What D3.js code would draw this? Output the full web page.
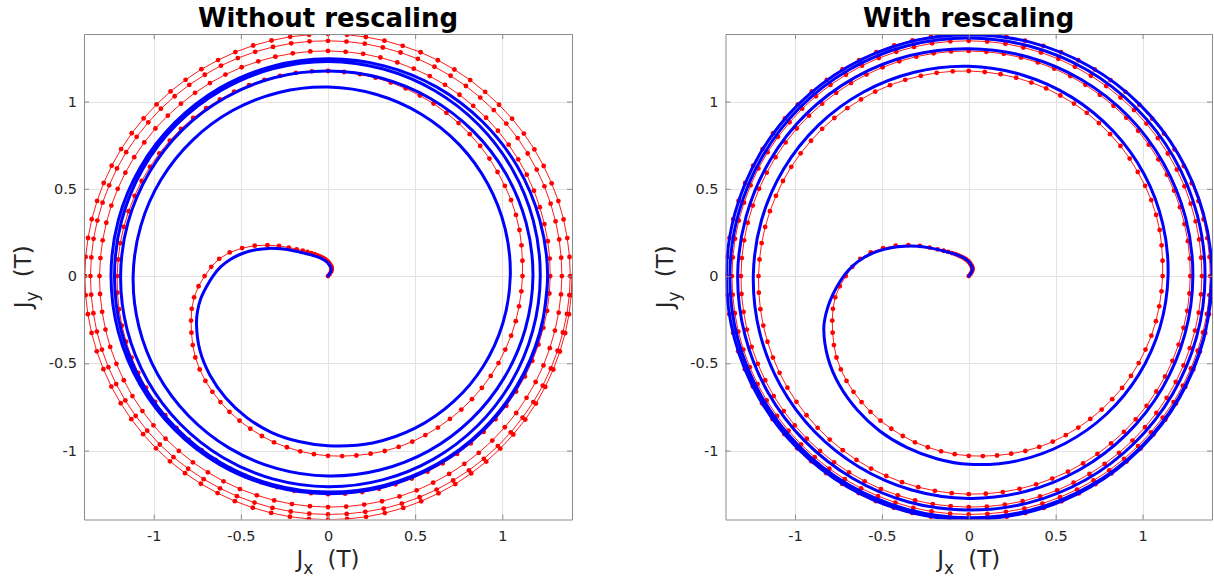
<!DOCTYPE html>
<html>
<head>
<meta charset="utf-8">
<script src="https://cdn.jsdelivr.net/npm/d3@7"></script>
<style>
  body { margin: 0; background: #fff; }
  svg { display: block; }
  text { font-family: "DejaVu Sans", "Liberation Sans", sans-serif; }
</style>
</head>
<body>
<svg id="chart" width="1214" height="581"></svg>
<script>
// Axis ticks and labels
const xTickValues = [-1, -0.5, 0, 0.5, 1];
const yTickValues = [-1, -0.5, 0, 0.5, 1];
const tickLabels = ["-1", "-0.5", "0", "0.5", "1"];
const panelTitles = ["Without rescaling", "With rescaling"];

// Reference trajectory (red markers): [phase angle in degrees, |J| in T]
const reference = [
[45,0],[49.5,0.015],[54,0.03],[58.5,0.04],[63,0.047],[67.5,0.053],[72,0.058],[76.5,0.063],[81,0.068],[85.5,0.075],
[90,0.082],[94.5,0.089],[99,0.096],[103.5,0.104],[108,0.113],[112.5,0.122],[117,0.133],[121.5,0.147],[126,0.163],[130.5,0.182],
[135,0.205],[139.5,0.236],[144,0.278],[148.5,0.33],[153,0.39],[157.5,0.455],[162,0.518],[166.5,0.58],[171,0.632],[175.5,0.672],
[180,0.708],[184.5,0.745],[189,0.778],[193.5,0.804],[198,0.826],[202.5,0.848],[207,0.871],[211.5,0.893],[216,0.91],[220.5,0.925],
[225,0.938],[229.5,0.95],[234,0.962],[238.5,0.972],[243,0.982],[247.5,0.992],[252,1.002],[256.5,1.009],[261,1.017],[265.5,1.024],
[270,1.03],[274.5,1.035],[279,1.041],[283.5,1.047],[288,1.054],[292.5,1.06],[297,1.065],[301.5,1.069],[306,1.073],[310.5,1.077],
[315,1.082],[319.5,1.086],[324,1.091],[328.5,1.095],[333,1.098],[337.5,1.101],[342,1.105],[346.5,1.108],[351,1.11],[355.5,1.113],
[360,1.116],[364.5,1.119],[369,1.124],[373.5,1.13],[378,1.134],[382.5,1.137],[387,1.139],[391.5,1.141],[396,1.145],[400.5,1.148],
[405,1.15],[409.5,1.153],[414,1.156],[418.5,1.159],[423,1.161],[427.5,1.164],[432,1.166],[436.5,1.169],[441,1.171],[445.5,1.173],
[450,1.175],[454.5,1.177],[459,1.179],[463.5,1.18],[468,1.182],[472.5,1.184],[477,1.186],[481.5,1.187],[486,1.189],[490.5,1.191],
[495,1.193],[499.5,1.194],[504,1.196],[508.5,1.198],[513,1.2],[517.5,1.201],[522,1.203],[526.5,1.205],[531,1.207],[535.5,1.208],
[540,1.21],[544.5,1.212],[549,1.214],[553.5,1.216],[558,1.218],[562.5,1.22],[567,1.222],[571.5,1.224],[576,1.226],[580.5,1.228],
[585,1.23],[589.5,1.232],[594,1.234],[598.5,1.236],[603,1.238],[607.5,1.24],[612,1.242],[616.5,1.244],[621,1.246],[625.5,1.248],
[630,1.25],[634.5,1.251],[639,1.253],[643.5,1.254],[648,1.255],[652.5,1.256],[657,1.258],[661.5,1.259],[666,1.26],[670.5,1.261],
[675,1.263],[679.5,1.264],[684,1.265],[688.5,1.266],[693,1.268],[697.5,1.269],[702,1.27],[706.5,1.271],[711,1.273],[715.5,1.274],
[720,1.275],[724.5,1.276],[729,1.277],[733.5,1.277],[738,1.278],[742.5,1.279],[747,1.28],[751.5,1.28],[756,1.281],[760.5,1.282],
[765,1.283],[769.5,1.283],[774,1.284],[778.5,1.285],[783,1.286],[787.5,1.286],[792,1.287],[796.5,1.288],[801,1.289],[805.5,1.289],
[810,1.29],[814.5,1.291],[819,1.292],[823.5,1.293],[828,1.294],[832.5,1.295],[837,1.296],[841.5,1.297],[846,1.298],[850.5,1.299],
[855,1.3],[859.5,1.302],[864,1.303],[868.5,1.304],[873,1.305],[877.5,1.306],[882,1.307],[886.5,1.308],[891,1.309],[895.5,1.31],
[900,1.311],[904.5,1.312],[909,1.312],[913.5,1.313],[918,1.314],[922.5,1.314],[927,1.315],[931.5,1.316],[936,1.316],[940.5,1.317],
[945,1.318],[949.5,1.318],[954,1.319],[958.5,1.319],[963,1.32],[967.5,1.321],[972,1.321],[976.5,1.322],[981,1.323],[985.5,1.323],
[990,1.324],[994.5,1.325],[999,1.326],[1003.5,1.327],[1008,1.328],[1012.5,1.329],[1017,1.329],[1021.5,1.33],[1026,1.331],[1030.5,1.332],
[1035,1.333],[1039.5,1.334],[1044,1.335],[1048.5,1.336],[1053,1.337],[1057.5,1.338],[1062,1.338],[1066.5,1.339],[1071,1.34],[1075.5,1.341],
[1080,1.342],[1084.5,1.342],[1089,1.343],[1093.5,1.343],[1098,1.343],[1102.5,1.344],[1107,1.344],[1111.5,1.344],[1116,1.345],[1120.5,1.345],
[1125,1.345],[1129.5,1.345],[1134,1.346],[1138.5,1.346],[1143,1.346],[1147.5,1.347],[1152,1.347],[1156.5,1.347],[1161,1.348],[1165.5,1.348],
[1170,1.348],[1174.5,1.349],[1179,1.35],[1183.5,1.35],[1188,1.351],[1192.5,1.352],[1197,1.353],[1201.5,1.353],[1206,1.354],[1210.5,1.355],
[1215,1.356],[1219.5,1.356],[1224,1.357],[1228.5,1.358],[1233,1.359],[1237.5,1.359],[1242,1.36],[1246.5,1.361],[1251,1.362],[1255.5,1.362],
[1260,1.363],[1264.5,1.363],[1269,1.363],[1273.5,1.364],[1278,1.364],[1282.5,1.364],[1287,1.364],[1291.5,1.364],[1296,1.364],[1300.5,1.364],
[1305,1.365],[1309.5,1.365],[1314,1.365],[1318.5,1.365],[1323,1.365],[1327.5,1.365],[1332,1.365],[1336.5,1.366],[1341,1.366],[1345.5,1.366],
[1350,1.366],[1354.5,1.367],[1359,1.368],[1363.5,1.37],[1368,1.371],[1372.5,1.372],[1377,1.373],[1381.5,1.374],[1386,1.376],[1390.5,1.377],
[1395,1.378],[1399.5,1.379],[1404,1.38],[1408.5,1.382],[1413,1.383],[1417.5,1.384],[1422,1.385],[1426.5,1.386],[1431,1.388],[1435.5,1.389],
[1440,1.39],[1444.5,1.39],[1449,1.39],[1453.5,1.39],[1458,1.39],[1462.5,1.389],[1467,1.389],[1471.5,1.389],[1476,1.389],[1480.5,1.389],
[1485,1.388],[1489.5,1.388],[1494,1.388],[1498.5,1.388],[1503,1.388],[1507.5,1.388],[1512,1.387],[1516.5,1.387],[1521,1.387],[1525.5,1.387],
[1530,1.387],[1534.5,1.387],[1539,1.388],[1543.5,1.388],[1548,1.389],[1552.5,1.389],[1557,1.389],[1561.5,1.39],[1566,1.39],[1570.5,1.391],
[1575,1.391],[1579.5,1.391],[1584,1.392],[1588.5,1.392],[1593,1.393],[1597.5,1.393],[1602,1.393],[1606.5,1.394],[1611,1.394],[1615.5,1.395],
[1620,1.395],[1624.5,1.395],[1629,1.395],[1633.5,1.395],[1638,1.395],[1642.5,1.395],[1647,1.395],[1651.5,1.395],[1656,1.395],[1660.5,1.395],
[1665,1.396],[1669.5,1.396],[1674,1.396],[1678.5,1.396],[1683,1.396],[1687.5,1.396],[1692,1.396],[1696.5,1.396],[1701,1.396],[1705.5,1.396],
[1710,1.396],[1714.5,1.396],[1719,1.397],[1723.5,1.397],[1728,1.397],[1732.5,1.397],[1737,1.397],[1741.5,1.398],[1746,1.398],[1750.5,1.398],
[1755,1.398],[1759.5,1.398],[1764,1.399],[1768.5,1.399],[1773,1.399],[1777.5,1.399],[1782,1.399],[1786.5,1.4],[1791,1.4],[1795.5,1.4],[1800,1.4]
];

// Simulated trajectory, plain (blue line, left panel): [phase angle in degrees, |J| in T]
const simulatedPlain = [
[45,0],[50,0.012],[55,0.025],[60,0.036],[65,0.044],[70,0.05],[75,0.055],[80,0.061],[85,0.067],[90,0.074],
[95,0.081],[100,0.089],[105,0.097],[110,0.106],[115,0.116],[120,0.128],[125,0.142],[130,0.16],[135,0.183],[140,0.215],
[145,0.258],[150,0.312],[155,0.375],[160,0.44],[165,0.505],[170,0.565],[175,0.617],[180,0.66],[185,0.7],[190,0.741],
[195,0.775],[200,0.803],[210,0.849],[220,0.884],[230,0.912],[240,0.935],[250,0.953],[260,0.963],[270,0.972],[285,0.99],
[300,1.005],[315,1.018],[330,1.03],[345,1.039],[360,1.046],[375,1.052],[390,1.058],[405,1.065],[420,1.071],[435,1.077],
[450,1.083],[465,1.089],[480,1.095],[495,1.1],[510,1.106],[525,1.112],[540,1.118],[555,1.123],[570,1.128],[585,1.132],
[600,1.137],[615,1.141],[630,1.146],[645,1.151],[660,1.157],[675,1.162],[690,1.167],[705,1.172],[720,1.176],[735,1.177],
[750,1.177],[765,1.176],[780,1.175],[795,1.175],[810,1.175],[825,1.178],[840,1.18],[855,1.183],[870,1.185],[885,1.188],
[900,1.19],[915,1.193],[930,1.196],[945,1.199],[960,1.202],[975,1.205],[990,1.207],[1005,1.209],[1020,1.211],[1035,1.213],
[1050,1.215],[1065,1.216],[1080,1.218],[1095,1.22],[1110,1.222],[1125,1.224],[1140,1.226],[1155,1.228],[1170,1.23],[1185,1.229],
[1200,1.228],[1215,1.228],[1230,1.227],[1245,1.226],[1260,1.225],[1275,1.227],[1290,1.23],[1305,1.232],[1320,1.234],[1335,1.236],
[1350,1.238],[1365,1.242],[1380,1.246],[1395,1.25],[1410,1.253],[1425,1.257],[1440,1.26],[1455,1.257],[1470,1.255],[1485,1.252],
[1500,1.25],[1515,1.247],[1530,1.245],[1545,1.244],[1560,1.244],[1575,1.243],[1590,1.244],[1605,1.245],[1620,1.245],[1635,1.245],
[1650,1.245],[1665,1.245],[1680,1.246],[1695,1.246],[1710,1.247],[1725,1.25],[1740,1.252],[1755,1.255],[1770,1.258],[1785,1.26],[1800,1.262]
];

// Simulated trajectory, rescaled (blue line, right panel): [phase angle in degrees, |J| in T]
const simulatedRescaled = [
[45,0],[50,0.013],[55,0.027],[60,0.039],[65,0.048],[70,0.055],[75,0.061],[80,0.067],[85,0.074],[90,0.082],
[95,0.09],[100,0.098],[105,0.107],[110,0.117],[115,0.128],[120,0.141],[125,0.157],[130,0.177],[135,0.203],[140,0.238],
[145,0.284],[150,0.341],[155,0.405],[160,0.475],[165,0.545],[170,0.612],[175,0.67],[180,0.72],[185,0.765],[190,0.81],
[195,0.852],[200,0.888],[210,0.936],[220,0.972],[230,1.0],[240,1.025],[250,1.045],[260,1.063],[270,1.079],[285,1.095],
[300,1.108],[315,1.12],[330,1.13],[345,1.139],[360,1.147],[375,1.156],[390,1.166],[405,1.175],[420,1.184],[435,1.193],
[450,1.202],[465,1.209],[480,1.216],[495,1.223],[510,1.229],[525,1.235],[540,1.24],[555,1.246],[570,1.252],[585,1.258],
[600,1.263],[615,1.269],[630,1.274],[645,1.277],[660,1.28],[675,1.283],[690,1.286],[705,1.288],[720,1.29],[735,1.292],
[750,1.294],[765,1.297],[780,1.299],[795,1.301],[810,1.303],[825,1.308],[840,1.313],[855,1.318],[870,1.322],[885,1.326],
[900,1.33],[915,1.332],[930,1.334],[945,1.336],[960,1.338],[975,1.34],[990,1.341],[1005,1.344],[1020,1.348],[1035,1.351],
[1050,1.354],[1065,1.357],[1080,1.36],[1095,1.361],[1110,1.362],[1125,1.362],[1140,1.363],[1155,1.363],[1170,1.364],[1185,1.366],
[1200,1.368],[1215,1.37],[1230,1.371],[1245,1.373],[1260,1.375],[1275,1.377],[1290,1.378],[1305,1.38],[1320,1.382],[1335,1.383],
[1350,1.385],[1365,1.388],[1380,1.39],[1395,1.393],[1410,1.395],[1425,1.398],[1440,1.4],[1455,1.397],[1470,1.394],[1485,1.391],
[1500,1.388],[1515,1.386],[1530,1.383],[1545,1.385],[1560,1.387],[1575,1.389],[1590,1.391],[1605,1.393],[1620,1.395],[1635,1.395],
[1650,1.395],[1665,1.395],[1680,1.395],[1695,1.395],[1710,1.395],[1725,1.396],[1740,1.397],[1755,1.398],[1770,1.399],[1785,1.4],[1800,1.4]
];

const svg = d3.select("#chart");
const plotTop = 34, plotBottom = 519.5;

const panels = [
  { title: panelTitles[0], left: 84, right: 572, yLabelX: 31, sim: simulatedPlain },
  { title: panelTitles[1], left: 725.5, right: 1212, yLabelX: 673, sim: simulatedRescaled }
];

// polar sample -> cartesian (Jx, Jy)
const toJ = d => {
  const a = d[0] * Math.PI / 180;
  return [d[1] * Math.cos(a), d[1] * Math.sin(a)];
};

panels.forEach((p, i) => {
  const x = d3.scaleLinear().domain([-1.4, 1.4]).range([p.left, p.right]);
  const y = d3.scaleLinear().domain([-1.395, 1.387]).range([plotBottom, plotTop]);
  const g = svg.append("g");

  // grid
  g.append("g").selectAll("line").data(xTickValues).join("line")
    .attr("x1", d => Math.round(x(d)) + 0.5).attr("x2", d => Math.round(x(d)) + 0.5)
    .attr("y1", plotTop).attr("y2", plotBottom)
    .attr("stroke", "#e3e3e3").attr("stroke-width", 1);
  g.append("g").selectAll("line").data(yTickValues).join("line")
    .attr("y1", d => Math.round(y(d)) + 0.5).attr("y2", d => Math.round(y(d)) + 0.5)
    .attr("x1", p.left).attr("x2", p.right)
    .attr("stroke", "#e3e3e3").attr("stroke-width", 1);

  // data, clipped to the axes box
  const clipId = "clip" + i;
  svg.append("clipPath").attr("id", clipId).append("rect")
    .attr("x", p.left).attr("y", plotTop)
    .attr("width", p.right - p.left).attr("height", plotBottom - plotTop);
  const plot = g.append("g").attr("clip-path", `url(#${clipId})`);

  const refPts = reference.map(toJ);
  const simPts = p.sim.map(toJ);

  const straight = d3.line().x(d => x(d[0])).y(d => y(d[1]));
  const smooth = d3.line().x(d => x(d[0])).y(d => y(d[1])).curve(d3.curveCatmullRom.alpha(0.5));

  plot.append("path").datum(refPts).attr("d", straight)
    .attr("fill", "none").attr("stroke", "#ff0000").attr("stroke-width", 0.9);
  plot.append("g").selectAll("circle").data(refPts).join("circle")
    .attr("cx", d => x(d[0])).attr("cy", d => y(d[1])).attr("r", 2.4)
    .attr("fill", "#ff0000");
  plot.append("path").datum(simPts).attr("d", smooth)
    .attr("fill", "none").attr("stroke", "#0000ff").attr("stroke-width", 3)
    .attr("stroke-linejoin", "round").attr("stroke-linecap", "round");

  // axes (box with inward ticks on all four sides)
  const styleAxis = sel => {
    sel.select(".domain").attr("stroke", "#8a8a8a").attr("stroke-width", 1);
    sel.selectAll(".tick line").attr("stroke", "#8a8a8a");
    sel.selectAll(".tick text").attr("fill", "#262626")
      .attr("font-size", 14.5).attr("font-family", "DejaVu Sans, sans-serif");
  };
  g.append("g").attr("transform", `translate(0,${plotBottom})`)
    .call(d3.axisBottom(x).tickValues(xTickValues).tickFormat((d, k) => tickLabels[k])
      .tickSizeInner(-5).tickSizeOuter(0).tickPadding(11))
    .call(styleAxis);
  g.append("g").attr("transform", `translate(0,${plotTop})`)
    .call(d3.axisTop(x).tickValues(xTickValues).tickFormat("")
      .tickSizeInner(-5).tickSizeOuter(0))
    .call(styleAxis);
  g.append("g").attr("transform", `translate(${p.left},0)`)
    .call(d3.axisLeft(y).tickValues(yTickValues).tickFormat((d, k) => tickLabels[k])
      .tickSizeInner(-5).tickSizeOuter(0).tickPadding(7))
    .call(styleAxis);
  g.append("g").attr("transform", `translate(${p.right},0)`)
    .call(d3.axisRight(y).tickValues(yTickValues).tickFormat("")
      .tickSizeInner(-5).tickSizeOuter(0))
    .call(styleAxis);

  // title
  svg.append("text").attr("x", (p.left + p.right) / 2).attr("y", 27)
    .attr("text-anchor", "middle").attr("font-size", 26).attr("font-weight", "bold")
    .attr("fill", "#000").text(p.title);

  // x label: J_x  (T)
  const xl = svg.append("text").attr("x", (p.left + p.right) / 2).attr("y", 567)
    .attr("text-anchor", "middle").attr("font-size", 23).attr("fill", "#262626");
  xl.append("tspan").text("J");
  xl.append("tspan").attr("font-size", 17).attr("dy", 7).text("x");
  xl.append("tspan").attr("dy", -7).attr("dx", 14).text("(T)");

  // y label: J_y  (T)
  const yl = svg.append("text")
    .attr("transform", `translate(${p.yLabelX},${(plotTop + plotBottom) / 2}) rotate(-90)`)
    .attr("text-anchor", "middle").attr("font-size", 23).attr("fill", "#262626");
  yl.append("tspan").text("J");
  yl.append("tspan").attr("font-size", 17).attr("dy", 7).text("y");
  yl.append("tspan").attr("dy", -7).attr("dx", 14).text("(T)");
});
</script>
</body>
</html>
